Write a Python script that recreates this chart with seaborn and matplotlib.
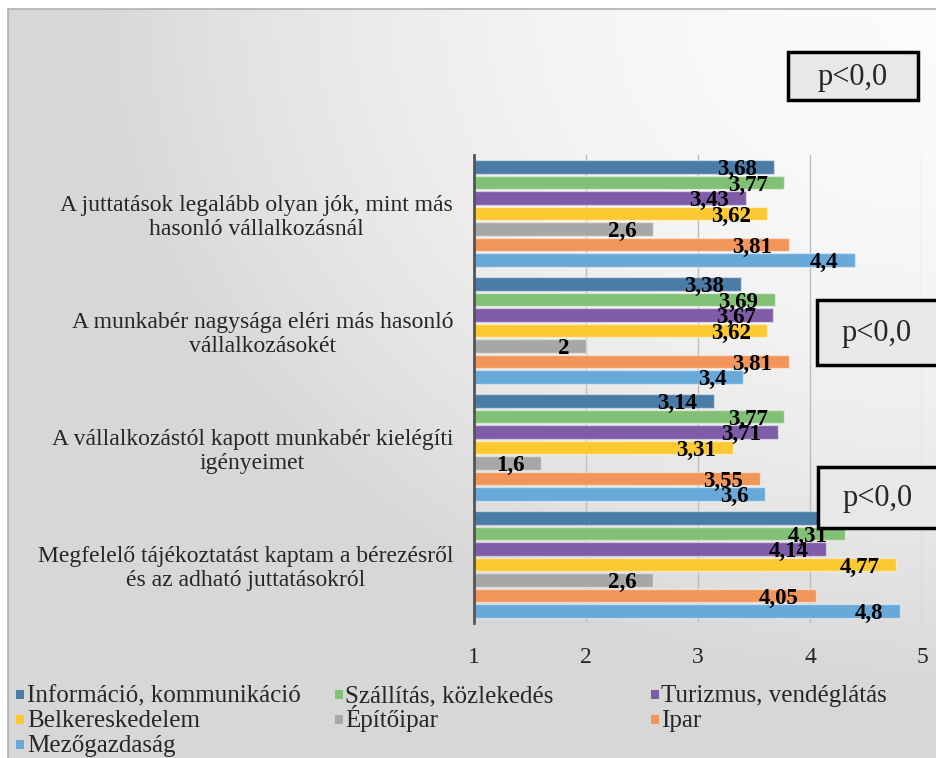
import numpy as np
import pandas as pd
import matplotlib
matplotlib.use("Agg")
import matplotlib.pyplot as plt
import seaborn as sns
from matplotlib.patches import Rectangle

# ---------------- data ----------------
categories = [
    "A juttatások legalább olyan jók, mint más\nhasonló vállalkozásnál",
    "A munkabér nagysága eléri más hasonló\nvállalkozásokét",
    "A vállalkozástól kapott munkabér kielégíti\nigényeimet",
    "Megfelelő tájékoztatást kaptam a bérezésről\nés az adható juttatásokról",
]
series = [
    "Információ, kommunikáció",
    "Szállítás, közlekedés",
    "Turizmus, vendéglátás",
    "Belkereskedelem",
    "Építőipar",
    "Ipar",
    "Mezőgazdaság",
]
info = [3.68, 3.38, 3.14, 4.5]
szallitas = [3.77, 3.69, 3.77, 4.31]
turizmus = [3.43, 3.67, 3.71, 4.14]
belker = [3.62, 3.62, 3.31, 4.77]
epitoipar = [2.6, 2.0, 1.6, 2.6]
ipar = [3.81, 3.81, 3.55, 4.05]
mezogazd = [4.4, 3.4, 3.6, 4.8]
x_ticks = [1, 2, 3, 4, 5]
p_note = "p<0,0"

colors = ["#4a7ca7", "#82c075", "#7f5ca7", "#fdc933", "#a6a8a8", "#f1955b", "#69a9d9"]

values = [info, szallitas, turizmus, belker, epitoipar, ipar, mezogazd]
rows = []
for s, vals in zip(series, values):
    for c, v in zip(categories, vals):
        rows.append({"cat": c, "series": s, "value": v})
df = pd.DataFrame(rows)

# ---------------- style ----------------
sns.set_style("white")
plt.rcParams["font.family"] = ["Liberation Serif", "DejaVu Serif"]

W, H = 937, 758
fig = plt.figure(figsize=(W / 100, H / 100), dpi=100)
fig.patch.set_facecolor("white")

# background gradient panel
bg = fig.add_axes([8 / W, 0, 1 - 8 / W, 1 - 9 / H], zorder=-10)
gx = np.linspace(0, 1, 300)
gy = np.linspace(0, 1, 300)
XX, YY = np.meshgrid(gx, gy)
r2 = (1 - XX) ** 2 + YY ** 2
v = np.clip(0.985 - 0.17 * r2, 0.845, 1)
bg.imshow(np.dstack([v, v, v]), aspect="auto", extent=[0, 1, 1, 0], interpolation="bilinear")
bg.set_xticks([]); bg.set_yticks([])
for side in ["bottom", "right"]:
    bg.spines[side].set_visible(False)
for side in ["top", "left"]:
    bg.spines[side].set_color("#b0b0b0")
    bg.spines[side].set_linewidth(1.2)

# main axes
ax = fig.add_axes([474 / W, 1 - 623 / H, 448 / W, 468 / H])
ax.patch.set_alpha(0)
sns.barplot(data=df, x="value", y="cat", hue="series", orient="h",
            palette=colors, width=0.93, gap=0.12, ax=ax,
            edgecolor=(1, 1, 1, 0.45), linewidth=1.0, saturation=1)

ax.set_xlim(1, 5)
ax.set_ylim(3.5, -0.5)
ax.set_xticks(x_ticks)
ax.set_xticklabels([str(t) for t in x_ticks], fontsize=17)
ax.set_xlabel("")
ax.set_ylabel("")
ax.tick_params(axis="x", length=0, pad=17)
ax.tick_params(axis="y", length=0, pad=15)
ax.set_yticks(range(len(categories)))
ax.set_yticklabels(categories, fontsize=17, multialignment="center")
ax.xaxis.grid(True, color="#bdbdbd", linewidth=1)
ax.set_axisbelow(True)
for side in ["top", "right", "bottom"]:
    ax.spines[side].set_visible(False)
ax.spines["left"].set_color("#555555")
ax.spines["left"].set_linewidth(2)

# value labels
for cont in ax.containers:
    for bar in cont:
        val = bar.get_width()
        txt = f"{val:g}".replace(".", ",")
        ax.annotate(txt, xy=(val, bar.get_y() + bar.get_height() / 2),
                    xytext=(-12, -2), textcoords="offset points",
                    ha="right", va="center", fontsize=16.5, fontweight="bold",
                    color="black")

# legend: row-major grid with fixed columns and baselines
handles, labels = ax.get_legend_handles_labels()
if ax.legend_ is not None:
    ax.legend_.remove()
col_sq_x = [16, 335, 651]
col_tx_x = [27, 345, 661]
row_base = [702, 727, 752]
for i, lab in enumerate(labels):
    r, c = divmod(i, 3)
    fc = handles[i].get_facecolor()
    sq = Rectangle((col_sq_x[c] / W, 1 - (row_base[r] - 3) / H), 8 / W, 9 / H,
                   transform=fig.transFigure, facecolor=fc, edgecolor="none")
    fig.add_artist(sq)
    fig.text(col_tx_x[c] / W, 1 - row_base[r] / H, lab, ha="left", va="baseline",
             fontsize=18)

# p-value boxes
boxes = [(788, 52, 918, 100), (817, 300, 945, 365), (818, 467, 945, 528)]
for (x0, y0, x1, y1) in boxes:
    rect = Rectangle((x0 / W, 1 - y1 / H), (x1 - x0) / W, (y1 - y0) / H,
                     transform=fig.transFigure, facecolor="#e8e8e8",
                     edgecolor="black", linewidth=2.5, zorder=20, clip_on=False)
    fig.add_artist(rect)
    tx = (x0 + x1) / 2 if x1 < 937 else x0 + 60
    fig.text(tx / W, 1 - ((y0 + y1) / 2 + 1) / H, p_note, ha="center", va="center",
             fontsize=22, zorder=21)

fig.savefig("out.png", dpi=100, facecolor=fig.get_facecolor())
